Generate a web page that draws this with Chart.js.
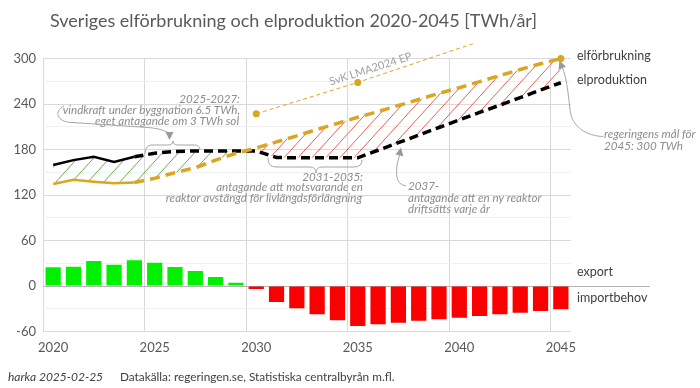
<!DOCTYPE html>
<html>
<head>
<meta charset="utf-8">
<title>Sveriges elförbrukning och elproduktion 2020-2045</title>
<script src="https://cdn.jsdelivr.net/npm/chart.js@4.4.1/dist/chart.umd.min.js"></script>
<style>
	html, body { margin: 0; padding: 0; background: #fff; }
	#ruta { width: 700px; height: 388px; }
</style>
</head>
<body>
<div id="ruta"><canvas id="grafico" width="700" height="388"></canvas></div>

<script>
// år på x-axeln
var ar = ['2020','2021','2022','2023','2024','2025','2026','2027','2028','2029',
	'2030','2031','2032','2033','2034','2035','2036','2037','2038','2039',
	'2040','2041','2042','2043','2044','2045'];

// elproduktion TWh (2020-2024 utfall, sedan antagande)
var produktion = [159.5, 166, 170.5, 163.5, 170.5, 175, 177.5, 178, 178, 178,
	178, 169.5, 169, 169, 169, 169, 179, 189, 199, 209,
	219, 229, 238.5, 248.5, 258.5, 268];

// elförbrukning TWh
var forbrukning = [134.5, 140, 137.5, 135.5, 136.5, 142, 149.5, 156, 166, 175,
	182, 190, 198, 206.5, 214.5, 222.5, 230, 238, 246, 254,
	261.5, 269.5, 277.5, 285.5, 293, 300];

// SvK LMA2024 EP (linjen fortsätter förbi diagrammets topp)
var svk = [null, null, null, null, null, null, null, null, null, null,
	227, null, null, null, null, 268.5, null, null, null, null,
	313.5, null, null, null, null, 358];

// export (+) / importbehov (-)
var netto = [24.7, 25.5, 33, 28, 34, 30.7, 25, 19.8, 11.9, 4.4,
	-4, -21, -29.5, -37.4, -45, -52.8, -50.6, -48.4, -45.7, -44,
	-41.8, -39.6, -37.4, -35.2, -33, -30.8];

var yTicks = [-60, 0, 60, 120, 180, 240, 300];
var sistaUtfall = 4; // 2024

var guld = '#daa520';
var gra = '#8c8c8c';

// utfall heldraget, prognos streckat
function utfall(lista) { return lista.map(function(v, i) { return i <= sistaUtfall ? v : null; }); }
function prognos(lista) { return lista.map(function(v, i) { return i >= sistaUtfall ? v : null; }); }

function pil(ctx, x, y, vinkel) {
	// fylld pilspets, spets i (x,y)
	ctx.save();
	ctx.translate(x, y);
	ctx.rotate(vinkel);
	ctx.beginPath();
	ctx.moveTo(0, 0);
	ctx.lineTo(-8, -4);
	ctx.lineTo(-8, 4);
	ctx.closePath();
	ctx.fill();
	ctx.restore();
}

function text(ctx, s, x, y, align, font, farg) {
	ctx.font = font;
	ctx.fillStyle = farg;
	ctx.textAlign = align;
	ctx.textBaseline = 'middle';
	ctx.fillText(s, x, y);
}

// skraffering mellan produktion och förbrukning: grön där produktionen är störst, röd annars
var skraffering = {
	id: 'skraffering',
	beforeDatasetsDraw: function(chart) {
		var ctx = chart.ctx;
		var xs = chart.scales.x, ys = chart.scales.y;
		var area = chart.chartArea;
		var n = produktion.length;

		ctx.save();
		ctx.beginPath();
		for (var i = 0; i < n; i++) {
			var px = xs.getPixelForValue(i), py = ys.getPixelForValue(produktion[i]);
			if (i === 0) ctx.moveTo(px, py); else ctx.lineTo(px, py);
		}
		for (var j = n - 1; j >= 0; j--) {
			ctx.lineTo(xs.getPixelForValue(j), ys.getPixelForValue(forbrukning[j]));
		}
		ctx.closePath();
		ctx.clip();

		// dela upp i intervall där tecknet på skillnaden är detsamma
		var delar = [];
		var start = xs.getPixelForValue(0);
		var tecken = produktion[0] >= forbrukning[0];
		for (var k = 0; k < n - 1; k++) {
			var d0 = produktion[k] - forbrukning[k], d1 = produktion[k + 1] - forbrukning[k + 1];
			if ((d0 >= 0) !== (d1 >= 0)) {
				var t = d0 / (d0 - d1);
				var xk = xs.getPixelForValue(k) + t * (xs.getPixelForValue(k + 1) - xs.getPixelForValue(k));
				delar.push([start, xk, tecken]);
				start = xk;
				tecken = d1 >= 0;
			}
		}
		delar.push([start, xs.getPixelForValue(n - 1), tecken]);

		var h = area.bottom - area.top;
		var lutning = 1.1;
		delar.forEach(function(del) {
			var steg = del[2] ? 16 : 14;
			ctx.save();
			ctx.beginPath();
			ctx.rect(del[0], area.top, del[1] - del[0], h);
			ctx.clip();
			ctx.strokeStyle = del[2] ? 'rgba(95,165,75,0.95)' : 'rgba(230,80,70,0.9)';
			ctx.lineWidth = 1;
			ctx.beginPath();
			var c0 = Math.floor((del[0] - h / lutning) / steg) * steg;
			for (var c = c0; c <= del[1]; c += steg) {
				ctx.moveTo(c, area.bottom);
				ctx.lineTo(c + h / lutning, area.top);
			}
			ctx.stroke();
			ctx.restore();
		});
		ctx.restore();
	}
};

var texter = {
	id: 'texter',
	beforeDatasetsDraw: function(chart) {
		var ctx = chart.ctx;
		var y0 = chart.scales.y.getPixelForValue(0);
		ctx.save();
		ctx.strokeStyle = '#b4b4b4';
		ctx.lineWidth = 1;
		ctx.beginPath();
		ctx.moveTo(chart.chartArea.left, Math.round(y0) + 0.5);
		ctx.lineTo(650, Math.round(y0) + 0.5);
		ctx.stroke();
		ctx.restore();
	},
	afterDraw: function(chart) {
		var ctx = chart.ctx;
		var xs = chart.scales.x, ys = chart.scales.y;
		ctx.save();

		text(ctx, 'Sveriges elförbrukning och elproduktion 2020-2045 [TWh/år]', 50, 21, 'left', '18px Lato', '#595959');

		var r = '12.5px Lato';
		text(ctx, 'elförbrukning', 577, 56, 'left', r, '#404040');
		text(ctx, 'elproduktion', 577, 80, 'left', r, '#404040');
		text(ctx, 'export', 577, 272, 'left', r, '#404040');
		text(ctx, 'importbehov', 577, 297.5, 'left', r, '#404040');

		text(ctx, 'harka 2025-02-25', 8, 377, 'left', 'italic 12px Lato', '#404040');
		text(ctx, 'Datakälla: regeringen.se, Statistiska centralbyrån m.fl.', 120, 377, 'left', '11.8px Lato', '#404040');

		var f = 'italic 11.6px Lato';
		text(ctx, '2025-2027:', 240, 99, 'right', f, gra);
		text(ctx, 'vindkraft under byggnation 6.5 TWh,', 240, 110.5, 'right', f, gra);
		text(ctx, 'eget antagande om 3 TWh sol', 239, 121.5, 'right', f, gra);

		text(ctx, '2031-2035:', 363, 177, 'right', f, gra);
		text(ctx, 'antagande att motsvarande en', 363, 187.5, 'right', f, gra);
		text(ctx, 'reaktor avstängd för livlängdsförlängning', 362, 198.5, 'right', f, gra);

		text(ctx, '2037-', 408, 186.5, 'left', f, gra);
		text(ctx, 'antagande att en ny reaktor', 408, 198, 'left', f, gra);
		text(ctx, 'driftsätts varje år', 408, 209, 'left', f, gra);

		text(ctx, 'regeringens mål för', 604, 134.5, 'left', f, gra);
		text(ctx, '2045: 300 TWh', 604, 146, 'left', f, gra);

		// SvK-etikett längs linjen
		var p1x = xs.getPixelForValue(10), p1y = ys.getPixelForValue(svk[10]);
		var p2x = xs.getPixelForValue(20), p2y = ys.getPixelForValue(svk[20]);
		var vinkel = Math.atan2(p2y - p1y, p2x - p1x);
		var lx = 332, ly = p1y + (lx - p1x) * Math.tan(vinkel);
		ctx.save();
		ctx.translate(lx, ly);
		ctx.rotate(vinkel);
		ctx.font = '11px Lato';
		ctx.fillStyle = '#a0a0a0';
		ctx.textAlign = 'left';
		ctx.textBaseline = 'alphabetic';
		ctx.fillText('SvK LMA2024 EP', 0, -4);
		ctx.restore();

		// kurvor, klammer, pilar
		ctx.strokeStyle = '#a6a6a6';
		ctx.fillStyle = '#9a9a9a';
		ctx.lineWidth = 1;

		ctx.beginPath();
		ctx.moveTo(64, 106);
		ctx.bezierCurveTo(54, 111, 56, 122, 72, 122.5);
		ctx.lineTo(148, 127.5);
		ctx.bezierCurveTo(160, 128.5, 166, 131, 168.5, 133);
		ctx.stroke();
		pil(ctx, 169.5, 140, Math.PI / 2);

		ctx.beginPath();
		ctx.moveTo(145, 154);
		ctx.quadraticCurveTo(145, 145, 152, 145);
		ctx.lineTo(168, 145);
		ctx.quadraticCurveTo(173, 145, 173, 141);
		ctx.quadraticCurveTo(173, 145, 178, 145);
		ctx.lineTo(194, 145);
		ctx.quadraticCurveTo(200, 145, 200, 150);
		ctx.stroke();

		ctx.beginPath();
		ctx.moveTo(268, 158);
		ctx.quadraticCurveTo(268, 167, 276, 167);
		ctx.lineTo(310, 167);
		ctx.quadraticCurveTo(316, 167, 316, 173);
		ctx.quadraticCurveTo(316, 167, 322, 167);
		ctx.lineTo(354, 167);
		ctx.quadraticCurveTo(362, 167, 362, 160);
		ctx.stroke();

		ctx.beginPath();
		ctx.moveTo(406, 186);
		ctx.bezierCurveTo(396, 184, 396, 176, 397, 165);
		ctx.lineTo(399.5, 155);
		ctx.stroke();
		pil(ctx, 401, 147.5, -Math.PI / 2 + 0.2);

		ctx.beginPath();
		ctx.moveTo(603, 136.5);
		ctx.bezierCurveTo(588, 136, 572, 128, 570, 110);
		ctx.bezierCurveTo(568, 90, 566, 76, 562.5, 68);
		ctx.stroke();
		pil(ctx, 559.5, 60.5, -Math.PI / 2 - 0.35);

		ctx.restore();
	}
};

Chart.defaults.font.family = 'Lato';

new Chart(document.getElementById('grafico'), {
	type: 'bar',
	data: {
		labels: ar,
		datasets: [
			{
				type: 'line',
				label: 'SvK LMA2024 EP',
				data: svk,
				borderColor: guld,
				borderWidth: 1,
				borderDash: [4, 3],
				spanGaps: true,
				pointRadius: function(c) { return c.dataIndex === 25 ? 0 : 3.5; },
				pointBackgroundColor: guld,
				pointBorderWidth: 0,
				clip: { left: 5, top: 15, right: 5, bottom: 5 },
				order: 0
			},
			{
				type: 'line',
				label: 'elförbrukning',
				data: prognos(forbrukning),
				borderColor: guld,
				borderWidth: 3.5,
				borderDash: [10, 6],
				pointRadius: function(c) { return c.dataIndex === 25 ? 3.5 : 0; },
				pointBackgroundColor: guld,
				pointBorderWidth: 0,
				clip: 6,
				order: 1
			},
			{
				type: 'line',
				label: 'elförbrukning utfall',
				data: utfall(forbrukning),
				borderColor: guld,
				borderWidth: 2.5,
				pointRadius: 0,
				order: 1
			},
			{
				type: 'line',
				label: 'elproduktion',
				data: prognos(produktion),
				borderColor: '#000000',
				borderWidth: 3.5,
				borderDash: [9, 5],
				pointRadius: 0,
				order: 2
			},
			{
				type: 'line',
				label: 'elproduktion utfall',
				data: utfall(produktion),
				borderColor: '#000000',
				borderWidth: 2.5,
				pointRadius: 0,
				order: 2
			},
			{
				type: 'bar',
				label: 'export / importbehov',
				data: netto,
				backgroundColor: function(c) { return c.raw >= 0 ? '#00f000' : '#fa0000'; },
				barPercentage: 0.75,
				categoryPercentage: 1,
				order: 5
			}
		]
	},
	options: {
		responsive: false,
		animation: false,
		devicePixelRatio: 1,
		layout: { padding: { left: 0, right: 129, top: 58.5, bottom: 0 } },
		plugins: {
			legend: { display: false },
			title: { display: false },
			tooltip: { enabled: false }
		},
		scales: {
			x: {
				offset: true,
				grid: {
					offset: true,
					drawTicks: false,
					color: function(c) { return c.index % 5 === 0 ? '#d9d9d9' : 'rgba(0,0,0,0)'; }
				},
				border: { display: false },
				ticks: {
					autoSkip: false,
					maxRotation: 0,
					color: '#595959',
					font: { size: 13 },
					padding: 9,
					callback: function(v) {
						var a = this.getLabelForValue(v);
						return Number(a) % 5 === 0 ? a : '';
					}
				},
				afterFit: function(s) { s.height = 56.5; }
			},
			y: {
				min: -60,
				max: 300,
				grid: {
					drawTicks: false,
					color: function(c) { return yTicks.indexOf(c.tick.value) >= 0 ? '#d9d9d9' : '#f0f0f0'; }
				},
				border: { display: false },
				ticks: {
					stepSize: 30,
					color: '#595959',
					font: { size: 13 },
					padding: 7,
					callback: function(v) { return yTicks.indexOf(v) >= 0 ? v : ''; }
				},
				afterFit: function(s) { s.width = 43; }
			}
		}
	},
	plugins: [skraffering, texter]
});
</script>
</body>
</html>
